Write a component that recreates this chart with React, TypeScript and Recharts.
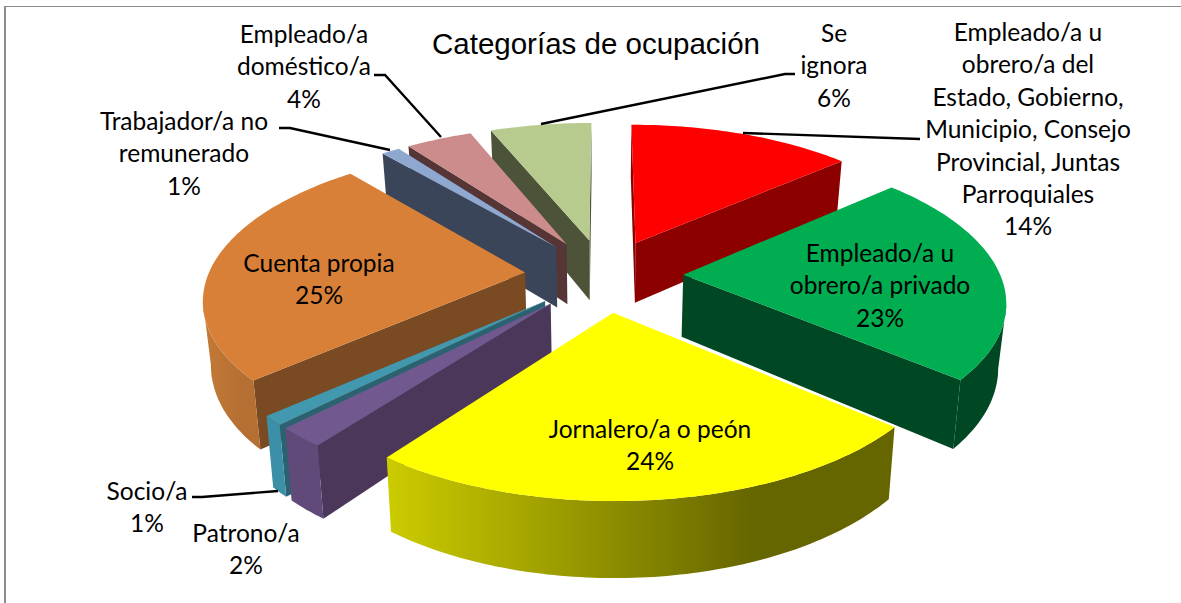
import { PieChart, Pie } from "recharts";

const categoryLines = [
  ["Empleado/a u", "obrero/a del", "Estado, Gobierno,", "Municipio, Consejo", "Provincial, Juntas", "Parroquiales"],
  ["Empleado/a u", "obrero/a privado"],
  ["Jornalero/a o peón"],
  ["Patrono/a"],
  ["Socio/a"],
  ["Cuenta propia"],
  ["Trabajador/a no", "remunerado"],
  ["Empleado/a", "doméstico/a"],
  ["Se", "ignora"],
];
const values = [13.5, 22.7, 24.0, 2.1, 1.0, 25.4, 1.1, 4.0, 6.1];

const slices = categoryLines.map((lines, i) => ({ name: lines.join(" "), value: values[i] }));

// top, straight wall, outer wall left and right
const sliceColors = [
  ["#ff0000", "#8c0000", "#8c0000", "#8c0000"],
  ["#00ad50", "#004724", "#004724", "#004724"],
  ["#ffff00", "#666600", "#cccc00", "#666600"],
  ["#71588f", "#4a3759", "#5f4a7a", "#5f4a7a"],
  ["#4198af", "#2a6271", "#3b8fa6", "#3b8fa6"],
  ["#d98038", "#7a4a22", "#c47a38", "#b56f33"],
  ["#8ea8d0", "#3a4559", "#3a4559", "#3a4559"],
  ["#cd8c8c", "#553535", "#553535", "#553535"],
  ["#b8cb8f", "#4d5339", "#4d5339", "#4d5339"],
];

// back to front
const drawOrder = [8, 7, 6, 0, 1, 5, 4, 3, 2];

const labelSpots = [
  [1028, 33], [880, 254], [650, 430], [246, 534], [147, 492],
  [319, 264], [184, 122], [304, 35], [834, 34],
];
const leaderLines = [
  [[743, 133], [920, 139]],
  null,
  null,
  null,
  [[278, 491], [202, 497], [192, 497]],
  null,
  [[390, 150], [290, 128], [279, 128]],
  [[441, 137], [385, 75], [374, 75]],
  [[541, 124], [785, 74], [795, 74]],
];

const EXPLODE = 0.25;
const TILT = 0.46;
const PERSPECTIVE = 0.156;
const THICKNESS = 62;
const BOTTOM_SHRINK = 0.98;

function drawSlice(props: any, layer: number) {
  const { cx, cy, outerRadius, startAngle, endAngle, index } = props;
  if (index !== layer) return <g />;
  const [topColor, wallColor, outerLeft, outerRight] = sliceColors[index];

  const t0 = ((90 - startAngle) * Math.PI) / 180;
  const t1 = ((90 - endAngle) * Math.PI) / 180;
  const tm = (t0 + t1) / 2;
  const apexU = EXPLODE * Math.sin(tm);
  const apexV = -EXPLODE * Math.cos(tm);

  const top = (u: number, v: number) => {
    const s = 1 / (1 - PERSPECTIVE * v);
    return [cx + u * outerRadius * s, cy + TILT * outerRadius * v * s, s];
  };
  const base = (p: number[]) => [cx + (p[0] - cx) * BOTTOM_SHRINK, p[1] + THICKNESS * p[2]];
  const path = (pts: number[][]) =>
    "M" + pts.map((p) => `${p[0].toFixed(1)},${p[1].toFixed(1)}`).join("L") + "Z";

  const steps = Math.max(4, Math.ceil(((t1 - t0) * 180) / Math.PI));
  const rim = [];
  for (let i = 0; i <= steps; i++) {
    const t = t0 + ((t1 - t0) * i) / steps;
    rim.push(top(apexU + Math.sin(t), apexV - Math.cos(t)));
  }
  const apex = top(apexU, apexV);
  const first = rim[0];
  const last = rim[rim.length - 1];

  // a wall shows when its edge runs right to left on a clockwise outline
  const run = rim.filter((p, i) => {
    const prev = rim[i - 1];
    const next = rim[i + 1];
    return (next && next[0] < p[0]) || (prev && p[0] < prev[0]);
  });

  const gradientId = `outer-wall-${index}`;
  return (
    <g>
      <defs>
        <linearGradient id={gradientId} x1="0" x2="1" y1="0" y2="0">
          <stop offset="0" stopColor={outerLeft} />
          <stop offset="0.72" stopColor={outerRight} />
          <stop offset="1" stopColor={outerRight} />
        </linearGradient>
      </defs>
      {first[0] < apex[0] && (
        <path d={path([apex, first, base(first), base(apex)])} fill={wallColor} />
      )}
      {apex[0] < last[0] && (
        <path d={path([last, apex, base(apex), base(last)])} fill={wallColor} />
      )}
      {run.length > 1 && (
        <path d={path([...run, ...run.map(base).reverse()])} fill={`url(#${gradientId})`} />
      )}
      <path d={path([apex, ...rim])} fill={topColor} />
    </g>
  );
}

function renderLabel(props: any) {
  const { index, value } = props;
  const [x, y] = labelSpots[index];
  const lines = [...categoryLines[index], `${Math.round(value)}%`];
  const leader = leaderLines[index];
  return (
    <g key={index}>
      {leader && (
        <polyline
          points={leader.map((p) => p.join(",")).join(" ")}
          fill="none"
          stroke="#000"
          strokeWidth={2.4}
        />
      )}
      {lines.map((line, i) => (
        <text
          key={i}
          x={x}
          y={y + i * 32.4 + 8}
          textAnchor="middle"
          fontFamily="Lato"
          fontSize={24.5}
          fill="#000"
        >
          {line}
        </text>
      ))}
    </g>
  );
}

export default function App() {
  return (
    <div
      style={{
        position: "fixed",
        left: 0,
        top: 0,
        width: 1181,
        height: 603,
        background: "#fff",
        overflow: "hidden",
      }}
    >
      <div
        style={{
          position: "absolute",
          left: 4,
          top: 6,
          width: 1177,
          height: 597,
          borderLeft: "2.5px solid #8c8c8c",
          borderTop: "1.5px solid #8c8c8c",
        }}
      />
      <div style={{ position: "absolute", left: 0, top: 0 }}>
        <PieChart width={1181} height={603} margin={{ top: 0, right: 0, bottom: 0, left: 0 }}>
          <text
            x={596}
            y={54}
            textAnchor="middle"
            fontFamily="Liberation Sans"
            fontSize={29.5}
            fill="#000"
          >
            Categorías de ocupación
          </text>
          {drawOrder.map((layer, i) => (
            <Pie
              key={layer}
              data={slices}
              dataKey="value"
              nameKey="name"
              cx={604}
              cy={275}
              outerRadius={317}
              startAngle={90}
              endAngle={-270}
              stroke="none"
              isAnimationActive={false}
              labelLine={false}
              label={i === drawOrder.length - 1 ? renderLabel : false}
              shape={(props: any) => drawSlice(props, layer)}
            />
          ))}
        </PieChart>
      </div>
    </div>
  );
}
